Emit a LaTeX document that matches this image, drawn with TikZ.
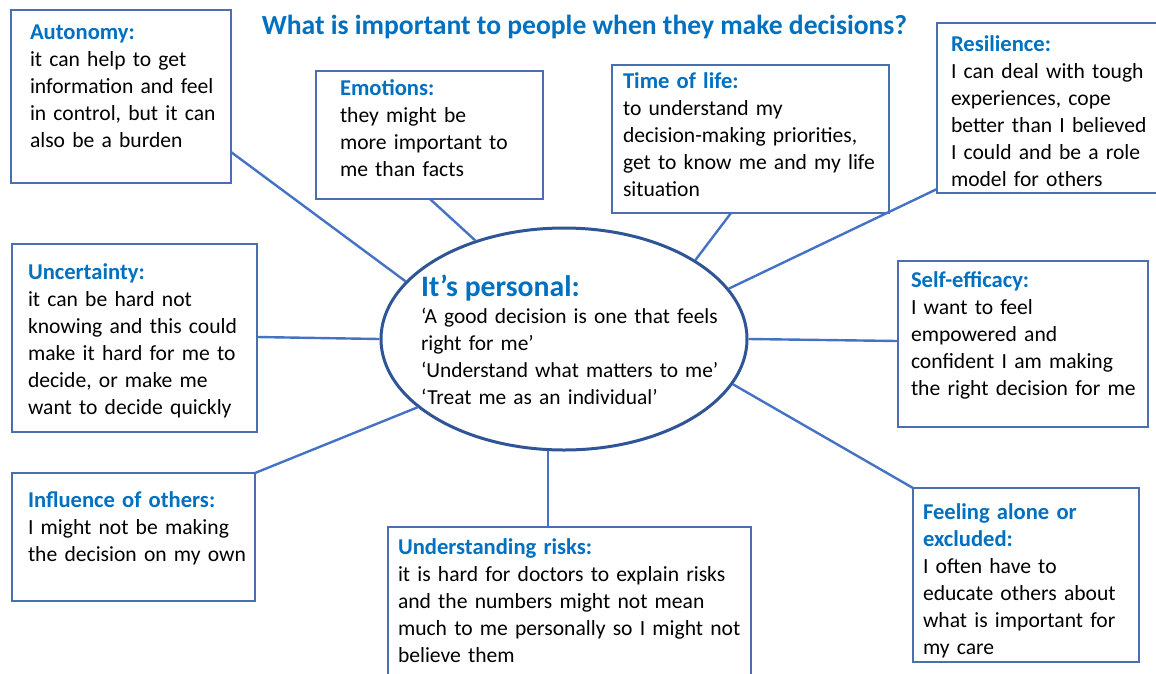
\documentclass[tikz,border=0pt]{standalone}
\usepackage{fontspec}
\setmainfont{Carlito}
\usetikzlibrary{calc,shapes.geometric}
\definecolor{linkblue}{HTML}{4472C4}
\definecolor{boxblue}{HTML}{4A6EB0}
\definecolor{ellblue}{HTML}{2F5597}
\definecolor{headblue}{HTML}{0070C0}
\tikzset{
  box/.style={draw=boxblue, line width=1.3pt, rectangle, inner sep=0pt, outer sep=0pt, fill=white, anchor=north west},
  link/.style={draw=linkblue, line width=2.4pt},
  txt/.style={anchor=base west, inner sep=0pt, outer sep=0pt, text width=420pt, align=left,
    font=\fontsize{21.6}{27}\selectfont, text=black},
}
\newcommand{\hdr}[1]{{\fontsize{22.6}{27}\selectfont\bfseries\color{headblue}#1}}
\begin{document}
\begin{tikzpicture}[x=1pt,y=-1pt]
\useasboundingbox (0,0) rectangle (1156,673);
\clip (0,0) rectangle (1156,673);
% boxes
\node[box, minimum width=220, minimum height=173] (aut) at (11,10) {};
\node[box, minimum width=227, minimum height=128] (emo) at (316,71) {};
\node[box, minimum width=277, minimum height=148] (tim) at (612,65) {};
\node[box, minimum width=240, minimum height=170] (res) at (937,23) {};
\node[box, minimum width=245, minimum height=188] (unc) at (12,244) {};
\node[box, minimum width=250, minimum height=166] (sef) at (898,261) {};
\node[box, minimum width=243, minimum height=128] (inf) at (12,473) {};
\node[box, minimum width=363, minimum height=170] (und) at (388,527) {};
\node[box, minimum width=226, minimum height=174] (fee) at (913,488) {};
% ellipse
\node[ellipse, draw=ellblue, line width=3pt, minimum width=366, minimum height=222, inner sep=0pt, fill=white] (ell) at (564,339) {};
% connectors
\draw[link] ($(aut.north east)+(0,142)$) -- (ell.160.5);
\draw[link] ($(emo.south west)+(114,0)$) -- (ell.132.9);
\draw[link] ($(tim.south west)+(119,0)$) -- (ell.31.5);
\draw[link] ($(res.south west)+(0,-4)$) -- (ell.17.3);
\draw[link] ($(unc.north east)+(0,93)$) -- (ell.180.6);
\draw[link] ($(sef.north west)+(0,80)$) -- (ell.-0.6);
\draw[link] (fee.north west) -- (ell.-15.4);
\draw[link] (inf.north east) -- (ell.205.3);
\draw[link] (ell.262.3) -- (ell.262.3 |- und.north);
% title
\node[anchor=base, inner sep=0pt, font=\fontsize{27.6}{32}\selectfont\bfseries, text=headblue] (title) at (584.5,34) {What is important to people when they make decisions?};
% texts
\node[txt] (autT) at (30,39) {\hdr{Autonomy:}\\it can help to get\\information and feel\\in control, but it can\\also be a burden};
\node[txt] (emoT) at (340,95) {\hdr{Emotions:}\\they might be\\more important to\\me than facts};
\node[txt] (timT) at (623,88) {\hdr{Time of life:}\\to understand my\\decision-making priorities,\\get to know me and my life\\situation};
\node[txt] (resT) at (951,51) {\hdr{Resilience:}\\I can deal with tough\\experiences, cope\\better than I believed\\I could and be a role\\model for others};
\node[txt] (uncT) at (28,279) {\hdr{Uncertainty:}\\it can be hard not\\knowing and this could\\make it hard for me to\\decide, or make me\\want to decide quickly};
\node[txt] (sefT) at (911,287) {\hdr{Self-efficacy:}\\I want to feel\\empowered and\\confident I am making\\the right decision for me};
\node[txt] (infT) at (28,507) {\hdr{Influence of others:}\\I might not be making\\the decision on my own};
\node[txt] (undT) at (398,554) {\hdr{Understanding risks:}\\it is hard for doctors to explain risks\\and the numbers might not mean\\much to me personally so I might not\\believe them};
\node[txt] (feeT) at (923,519) {\hdr{Feeling alone or}\\\hdr{excluded:}\\I often have to\\educate others about\\what is important for\\my care};
\node[anchor=base west, inner sep=0pt, font=\fontsize{29.7}{34}\selectfont\bfseries, text=headblue] (ellH) at (421,296) {It’s personal:};
\node[txt, font=\fontsize{21.4}{27}\selectfont] (ellT) at (421,323) {‘A good decision is one that feels\\right for me’\\‘Understand what matters to me’\\‘Treat me as an individual’};
\end{tikzpicture}
\end{document}
